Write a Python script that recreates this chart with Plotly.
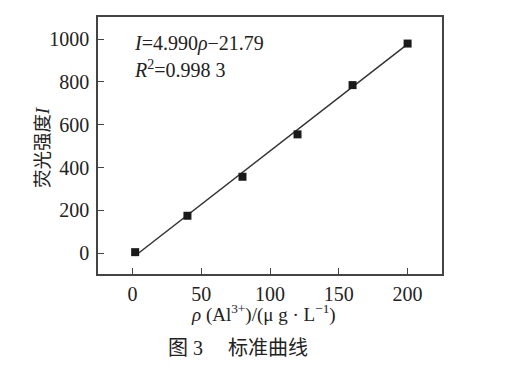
import plotly.graph_objects as go

# data
conc = [2, 40, 80, 120, 160, 200]
intensity = [5, 175, 357, 555, 785, 979]
slope = 4.990
intercept = -21.79
x_ticks = [0, 50, 100, 150, 200]
y_ticks = [0, 200, 400, 600, 800, 1000]

fit_x = [conc[0], conc[-1]]
fit_y = [slope * v + intercept for v in fit_x]

SERIF = "Liberation Serif, Times New Roman, Noto Sans CJK SC, serif"
INK = "#222222"

fig = go.Figure()
fig.add_trace(go.Scatter(x=fit_x, y=fit_y, mode="lines",
                         line=dict(color="#333333", width=1.5), showlegend=False))
fig.add_trace(go.Scatter(x=conc, y=intensity, mode="markers",
                         marker=dict(symbol="square", size=8, color="#1a1a1a"),
                         showlegend=False))

axis_common = dict(showline=True, linecolor="#444444", linewidth=1.5, mirror=True,
                   ticks="inside", ticklen=6, tickcolor="#444444", tickwidth=1.2,
                   showgrid=False, zeroline=False, automargin=False,
                   tickfont=dict(family=SERIF, size=20, color=INK))

fig.update_xaxes(range=[-25, 225], tickvals=x_ticks, ticklabelstandoff=1, **axis_common)
fig.update_yaxes(range=[-97, 1103], tickvals=y_ticks, ticklabelstandoff=3, **axis_common)

annots = [
    dict(x=0, y=980, xref="x", yref="y", xanchor="left", yanchor="middle",
         text="<i>I</i>=4.990<i>ρ</i>\u221221.79", showarrow=False,
         font=dict(family=SERIF, size=20, color=INK)),
    dict(x=0, y=862, xref="x", yref="y", xanchor="left", yanchor="middle",
         text="<i>R</i><sup>2</sup>=0.998 3", showarrow=False,
         font=dict(family=SERIF, size=20, color=INK)),
    dict(x=0.48, y=-0.152, xref="paper", yref="paper", xanchor="center", yanchor="middle",
         text="<i>ρ</i> (Al<sup>3+</sup>)/(μ g · L<sup>\u22121</sup>)", showarrow=False,
         font=dict(family=SERIF, size=19, color=INK)),
    dict(x=-0.16, y=0.494, xref="paper", yref="paper", xanchor="center", yanchor="middle",
         text="荧光强度<i>I</i>", textangle=-90, showarrow=False,
         font=dict(family=SERIF, size=18.5, color=INK)),
    dict(x=0.408, y=-0.288, xref="paper", yref="paper", xanchor="center", yanchor="middle",
         text="图 3\u3000 标准曲线", showarrow=False,
         font=dict(family=SERIF, size=20, color=INK)),
    dict(x=0.035, y=-0.365, xref="paper", yref="paper", xanchor="left", yanchor="top",
         text="Fig. 3\u2003Standard line", showarrow=False,
         font=dict(family=SERIF, size=15, color="#555555")),
]
fig.update_layout(
    width=505, height=373,
    margin=dict(l=98, r=63, t=17, b=99),
    paper_bgcolor="white", plot_bgcolor="white",
    annotations=annots,
    showlegend=False,
)

fig.write_html("out.html", config={"displayModeBar": False},
               post_script="document.body.style.margin='0';document.body.style.overflow='hidden';")
